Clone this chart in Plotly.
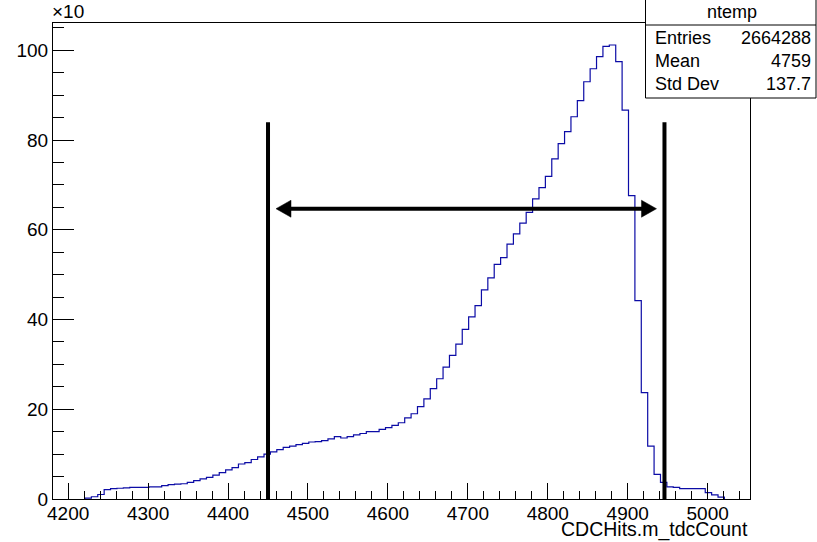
import numpy as np
import plotly.graph_objects as go

# ---------------- data ----------------
bin_low = 4181.0
bin_width = 8.0
counts_x1e3 = [
    0, 0, 0, 0, 0, 0.2, 0.5, 1.0, 2.1, 2.3,
    2.4, 2.5, 2.6, 2.6, 2.6, 2.7, 2.7, 3.0, 3.2, 3.3,
    3.4, 3.7, 4.1, 4.5, 4.8, 5.3, 5.9, 6.5, 7.0, 7.8,
    8.1, 8.8, 9.4, 10.0, 10.5, 11.0, 11.5, 11.8, 12.1, 12.4,
    12.7, 12.8, 13.0, 13.4, 13.9, 13.6, 13.9, 14.3, 14.6, 15.0,
    15.0, 15.5, 15.9, 16.4, 17.0, 18.1, 19.0, 20.6, 22.3, 24.6,
    26.8, 29.4, 32.0, 34.5, 37.8, 40.6, 43.1, 46.6, 49.3, 52.3,
    53.8, 56.8, 59.1, 61.5, 63.9, 66.9, 69.4, 71.9, 75.8, 79.2,
    81.9, 85.2, 88.8, 93.0, 95.9, 98.6, 100.9, 101.2, 97.5, 86.7,
    67.6, 44.2, 23.7, 11.8, 5.5, 3.7, 2.7, 2.6, 2.3, 2.3,
    2.3, 2.3, 1.4, 0.9, 0.4, 0, 0, 0, 0,
]
x_range = [4181.0, 5053.0]
y_range = [0.0, 106.1]
x_ticks = [4200, 4300, 4400, 4500, 4600, 4700, 4800, 4900, 5000]
y_ticks = [0, 20, 40, 60, 80, 100]

cut_low = 4450.0
cut_high = 4946.0
cut_top = 84.0
arrow_y = 64.7
arrow_left_tip = 4460.0
arrow_right_tip = 4936.0

hist_name = "ntemp"
stats_labels = ["Entries", "Mean", "Std Dev"]
stats_values = ["2664288", "4759", "137.7"]
x_title = "CDCHits.m_tdcCount"
y_exponent = "×10"

# ---------------- geometry (pixels) ----------------
W, H = 817, 542
L, R, T, B = 53, 750, 23, 499
pw, ph = R - L, B - T


def px(xp):
    return (xp - L) / pw


def py(yp):
    return (B - yp) / ph


edges = bin_low + bin_width * np.arange(len(counts_x1e3) + 1)
nz = [i for i, v in enumerate(counts_x1e3) if v > 0]
i0, i1 = nz[0], nz[-1]
hx = [edges[i0]] + [edges[i] for i in range(i0, i1 + 1)] + [edges[i1 + 1], edges[i1 + 1]]
hy = [0] + [counts_x1e3[i] for i in range(i0, i1 + 1)] + [counts_x1e3[i1], 0]

fig = go.Figure()
fig.add_trace(go.Scatter(
    x=hx, y=hy, mode="lines", line=dict(shape="hv", color="#0c0ca6", width=1.2),
    hoverinfo="skip", showlegend=False,
))

font = "Liberation Sans, Arial, Helvetica, sans-serif"
shapes = []
# cut lines
for xc in (cut_low, cut_high):
    shapes.append(dict(type="line", xref="x", yref="y", x0=xc, x1=xc, y0=0, y1=cut_top,
                       line=dict(color="black", width=4), layer="above"))
# arrow body + heads
head_len = 15 / (pw / (x_range[1] - x_range[0]))
head_hw = 8.5 / (ph / (y_range[1] - y_range[0]))
shapes.append(dict(type="line", xref="x", yref="y", x0=arrow_left_tip + head_len * 0.8,
                   x1=arrow_right_tip - head_len * 0.8, y0=arrow_y, y1=arrow_y,
                   line=dict(color="black", width=4), layer="above"))
for tip, d in ((arrow_left_tip, 1), (arrow_right_tip, -1)):
    base = tip + d * head_len
    shapes.append(dict(type="path", xref="x", yref="y",
                       path=f"M {tip},{arrow_y} L {base},{arrow_y + head_hw} L {base},{arrow_y - head_hw} Z",
                       fillcolor="black", line=dict(color="black", width=0.5), layer="above"))
# stats box
bx0, bx1, by0, by1 = 645.5, 816.0, -2, 98
shapes.append(dict(type="rect", xref="paper", yref="paper", x0=px(bx0), x1=px(bx1),
                   y0=py(by1), y1=py(by0), fillcolor="white",
                   line=dict(color="black", width=1), layer="above"))
shapes.append(dict(type="line", xref="paper", yref="paper", x0=px(bx0), x1=px(bx1),
                   y0=py(25), y1=py(25), line=dict(color="black", width=1), layer="above"))

annotations = []
annotations.append(dict(text=hist_name, xref="paper", yref="paper", x=px(731.5), y=py(12),
                        xanchor="center", yanchor="middle", showarrow=False,
                        font=dict(family=font, size=18, color="black")))
row_y = [38, 61, 84]
for lab, val, ry in zip(stats_labels, stats_values, row_y):
    annotations.append(dict(text=lab, xref="paper", yref="paper", x=px(653), y=py(ry),
                            xanchor="left", yanchor="middle", showarrow=False,
                            font=dict(family=font, size=18, color="black")))
    annotations.append(dict(text=val, xref="paper", yref="paper", x=px(813), y=py(ry),
                            xanchor="right", yanchor="middle", showarrow=False,
                            font=dict(family=font, size=18, color="black")))
annotations.append(dict(text=x_title, xref="paper", yref="paper", x=1.0, y=py(529),
                        xanchor="right", yanchor="middle", showarrow=False,
                        font=dict(family=font, size=19.5, color="black")))
annotations.append(dict(text=y_exponent, xref="paper", yref="paper", x=px(50), y=py(11),
                        xanchor="left", yanchor="middle", showarrow=False,
                        font=dict(family=font, size=19, color="black")))

fig.update_layout(
    width=W, height=H, margin=dict(l=L, r=W - R, t=T, b=H - B, pad=0),
    paper_bgcolor="white", plot_bgcolor="white",
    font=dict(family=font, size=19, color="black"),
    shapes=shapes, annotations=annotations, showlegend=False,
    xaxis=dict(range=x_range, tickvals=x_ticks, ticks="inside", ticklen=16, tickwidth=1,
               tickcolor="black", showline=True, linecolor="black", linewidth=1, mirror=True,
               showgrid=False, zeroline=False, tickfont=dict(size=19), ticklabelstandoff=-3,
               minor=dict(dtick=20, tick0=4200, ticks="inside", ticklen=8, tickcolor="black",
                          tickwidth=1, showgrid=False)),
    yaxis=dict(range=y_range, tickvals=y_ticks, ticks="inside", ticklen=21, tickwidth=1,
               tickcolor="black", showline=True, linecolor="black", linewidth=1, mirror=True,
               showgrid=False, zeroline=False, tickfont=dict(size=19),
               minor=dict(dtick=5, tick0=0, ticks="inside", ticklen=11, tickcolor="black",
                          tickwidth=1, showgrid=False)),
)

fig.write_html("out.html")
